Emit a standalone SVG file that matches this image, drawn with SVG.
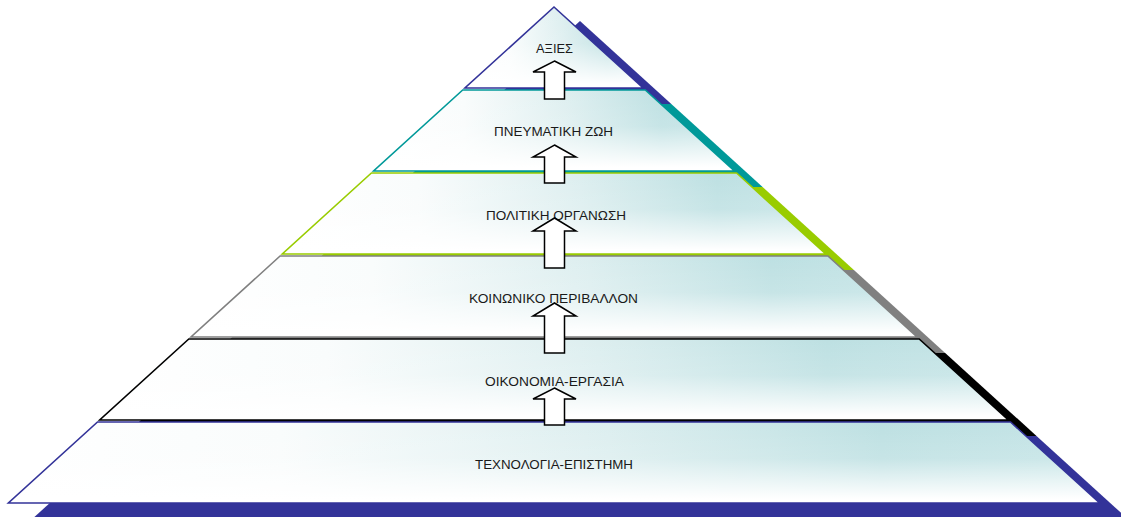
<svg xmlns="http://www.w3.org/2000/svg" width="1121" height="517" viewBox="0 0 1121 517">
<defs>
<linearGradient id="gh" x1="0" y1="0" x2="1" y2="0">
<stop offset="0" stop-color="#FFFFFF"/>
<stop offset="0.25" stop-color="#F9FCFC"/>
<stop offset="0.55" stop-color="#DCEEEF"/>
<stop offset="0.8" stop-color="#BDE0E2"/>
<stop offset="1" stop-color="#C4E4E6"/>
</linearGradient>
<linearGradient id="gv" x1="0" y1="0" x2="0" y2="1">
<stop offset="0" stop-color="#FFFFFF" stop-opacity="0"/>
<stop offset="0.45" stop-color="#FFFFFF" stop-opacity="0.15"/>
<stop offset="0.95" stop-color="#FFFFFF" stop-opacity="1"/>
</linearGradient>
<style>
.face{fill:url(#gh);stroke:none}
.sheen{fill:url(#gv);stroke-width:1.6;stroke-linejoin:miter}
.lbl{font-family:"Liberation Sans",Arial,sans-serif;font-size:13.5px;fill:#1a1a1a;text-anchor:middle}
.arrow{fill:#FFFFFF;stroke:#000000;stroke-width:1.5;stroke-linejoin:miter}
</style>
</defs>

<g id="layer1">
<polygon fill="#333399" points="580,21 671.3,104 488.7,104"/>
<polygon class="face" points="554,7 643.1,88 464.9,88"/>
<polygon class="sheen" stroke="#333399" points="554,7 643.1,88 464.9,88"/>
<text class="lbl" x="554.5" y="53" textLength="37" lengthAdjust="spacingAndGlyphs">ΑΞΙΕΣ</text>
</g>

<g id="layer2">
<polygon fill="#009999" points="488.7,104 671.3,104 762.6,187 397.4,187"/>
<polygon class="face" points="462.7,90 645.3,90 734.4,171 373.6,171"/>
<polygon class="sheen" stroke="#009999" points="462.7,90 645.3,90 734.4,171 373.6,171"/>
<text class="lbl" x="553.5" y="136" textLength="119" lengthAdjust="spacingAndGlyphs">ΠΝΕΥΜΑΤΙΚΗ ΖΩΗ</text>
</g>

<g id="layer3">
<polygon fill="#99CC00" points="397.4,187 762.6,187 853.9,270 306.1,270"/>
<polygon class="face" points="371.4,173 736.6,173 825.7,254 282.3,254"/>
<polygon class="sheen" stroke="#99CC00" points="371.4,173 736.6,173 825.7,254 282.3,254"/>
<text class="lbl" x="556" y="220" textLength="140" lengthAdjust="spacingAndGlyphs">ΠΟΛΙΤΙΚΗ ΟΡΓΑΝΩΣΗ</text>
</g>

<g id="layer4">
<polygon fill="#808080" points="306.1,270 853.9,270 945.2,353 214.8,353"/>
<polygon class="face" points="280.1,256 827.9,256 917,337 191,337"/>
<polygon class="sheen" stroke="#808080" points="280.1,256 827.9,256 917,337 191,337"/>
<text class="lbl" x="553.5" y="303" textLength="169" lengthAdjust="spacingAndGlyphs">ΚΟΙΝΩΝΙΚΟ ΠΕΡΙΒΑΛΛΟΝ</text>
</g>

<g id="layer5">
<polygon fill="#000000" points="214.8,353 945.2,353 1036.5,436 123.5,436"/>
<polygon class="face" points="188.8,339 919.2,339 1008.3,420 99.7,420"/>
<polygon class="sheen" stroke="#000000" points="188.8,339 919.2,339 1008.3,420 99.7,420"/>
<text class="lbl" x="554.5" y="386" textLength="139" lengthAdjust="spacingAndGlyphs">ΟΙΚΟΝΟΜΙΑ-ΕΡΓΑΣΙΑ</text>
</g>

<g id="layer6">
<polygon fill="#333399" points="123.5,436 1036.5,436 1125.6,517 34.4,517"/>
<polygon class="face" points="97.5,422 1010.5,422 1099.6,503 8.4,503"/>
<polygon class="sheen" stroke="#333399" points="97.5,422 1010.5,422 1099.6,503 8.4,503"/>
<text class="lbl" x="554" y="469" textLength="158" lengthAdjust="spacingAndGlyphs">ΤΕΧΝΟΛΟΓΙΑ-ΕΠΙΣΤΗΜΗ</text>
</g>

<g id="connectors">
<polygon class="arrow" points="554.5,61 576,72 564.5,72 564.5,99 544.5,99 544.5,72 533,72"/>
<polygon class="arrow" points="554.5,145 576,157 564.5,157 564.5,183 544.5,183 544.5,157 533,157"/>
<polygon class="arrow" points="554.5,218 576,231 564.5,231 564.5,268 544.5,268 544.5,231 533,231"/>
<polygon class="arrow" points="554.5,303 576,316 564.5,316 564.5,353 544.5,353 544.5,316 533,316"/>
<polygon class="arrow" points="554.5,388 576,399 564.5,399 564.5,425 544.5,425 544.5,399 533,399"/>
</g>
</svg>
